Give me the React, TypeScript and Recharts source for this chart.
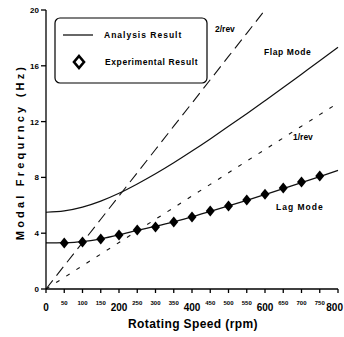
import { ComposedChart, Line, XAxis, YAxis } from "recharts";

const rpm = [0, 50, 100, 150, 200, 250, 300, 350, 400, 450, 500, 550, 600, 650, 700, 750, 800];
const flapAnalysis = [5.5, 5.6, 5.87, 6.3, 6.86, 7.53, 8.26, 9.05, 9.89, 10.76, 11.66, 12.57, 13.5, 14.44, 15.4, 16.36, 17.33];
const lagAnalysis = [3.3, 3.32, 3.4, 3.6, 3.88, 4.2, 4.5, 4.82, 5.17, 5.57, 5.95, 6.35, 6.77, 7.2, 7.62, 8.05, 8.5];
const lagExperiment = [null, 3.3, 3.37, 3.58, 3.87, 4.23, 4.44, 4.8, 5.16, 5.6, 5.95, 6.38, 6.8, 7.24, 7.67, 8.1, null];
const oneRev = [0, 0.83, 1.67, 2.5, 3.33, 4.17, 5, 5.83, 6.67, 7.5, 8.33, 9.17, 10, 10.83, 11.67, 12.5, 13.33];
const twoRev = [0, 1.67, 3.33, 5, 6.67, 8.33, 10, 11.67, 13.33, 15, 16.67, 18.33, 20, null, null, null, null];

const rpmTicks = [0, 50, 100, 150, 200, 250, 300, 350, 400, 450, 500, 550, 600, 650, 700, 750, 800];
const hzTicks = [0, 4, 8, 12, 16, 20];

const rows = rpm.map((r, i) => ({
  rpm: r,
  flap: flapAnalysis[i],
  lag: lagAnalysis[i],
  exp: lagExperiment[i],
  one: oneRev[i],
  two: twoRev[i],
}));

const FONT = "'Liberation Sans', Arial, sans-serif";

function RpmTick(props: any) {
  const { x, y, payload } = props;
  const v = payload.value as number;
  const big = v % 200 === 0;
  const last = v === 800;
  return (
    <text
      x={last ? x + 5 : x}
      y={big ? y + 16 : y + 10}
      textAnchor={last ? "end" : "middle"}
      fontFamily={FONT}
      fontWeight="bold"
      fontSize={big ? 10 : 6}
      fill="#000"
    >
      {v}
    </text>
  );
}

function HzTick(props: any) {
  const { x, y, payload } = props;
  return (
    <text x={x} y={y + 3} textAnchor="end" fontFamily={FONT} fontWeight="bold" fontSize={8} fill="#000">
      {payload.value}
    </text>
  );
}

function Diamond(props: any) {
  const { cx, cy, key } = props;
  if (cx == null || cy == null) return <g key={key} />;
  return (
    <polygon
      key={key}
      points={`${cx},${cy - 5.5} ${cx + 4.5},${cy} ${cx},${cy + 5.5} ${cx - 4.5},${cy}`}
      fill="#000"
    />
  );
}

const label = { fontFamily: FONT, fontWeight: "bold" as const, fill: "#000" };

export default function App() {
  return (
    <div style={{ position: "absolute", left: 0, top: 0, width: 344, height: 337, background: "#fff" }}>
      <ComposedChart width={344} height={337} data={rows} margin={{ top: 10, right: 6, bottom: 0, left: 0 }}>
        <XAxis
          xAxisId="bottom"
          dataKey="rpm"
          type="number"
          domain={[0, 800]}
          ticks={rpmTicks}
          interval={0}
          height={48}
          tickSize={4}
          stroke="#000"
          strokeWidth={1.3}
          tick={<RpmTick />}
        />
        <XAxis
          xAxisId="top"
          dataKey="rpm"
          type="number"
          orientation="top"
          domain={[0, 800]}
          ticks={rpmTicks}
          interval={0}
          height={0}
          mirror
          tickSize={4}
          stroke="#000"
          strokeWidth={1.3}
          tick={false}
        />
        <YAxis
          yAxisId="left"
          type="number"
          domain={[0, 20]}
          ticks={hzTicks}
          interval={0}
          width={46}
          tickSize={5}
          stroke="#000"
          strokeWidth={1.3}
          tick={<HzTick />}
        />
        <YAxis
          yAxisId="right"
          orientation="right"
          type="number"
          domain={[0, 20]}
          ticks={hzTicks}
          interval={0}
          width={0}
          mirror
          tickSize={5}
          stroke="#000"
          strokeWidth={1.3}
          tick={false}
        />
        <Line xAxisId="bottom" yAxisId="left" dataKey="two" type="linear" stroke="#111" strokeWidth={1.1}
          strokeDasharray="11 6" dot={false} connectNulls={false} isAnimationActive={false} />
        <Line xAxisId="bottom" yAxisId="left" dataKey="one" type="linear" stroke="#111" strokeWidth={1.1}
          strokeDasharray="4 8" dot={false} isAnimationActive={false} />
        <Line xAxisId="bottom" yAxisId="left" dataKey="flap" type="monotone" stroke="#111" strokeWidth={1.2}
          dot={false} isAnimationActive={false} />
        <Line xAxisId="bottom" yAxisId="left" dataKey="lag" type="monotone" stroke="#111" strokeWidth={1.3}
          dot={false} isAnimationActive={false} />
        <Line xAxisId="bottom" yAxisId="left" dataKey="exp" stroke="none" dot={<Diamond />}
          activeDot={false} isAnimationActive={false} />

        {/* legend box */}
        <rect x={55} y={18} width={152} height={65} rx={5} fill="#fff" stroke="#000" strokeWidth={1.2} />
        <line x1={63} x2={93} y1={35} y2={35} stroke="#000" strokeWidth={1.2} />
        <text x={104} y={38} fontSize={8.5} letterSpacing={1} {...label}>Analysis Result</text>
        <polygon points="79,56 84,62 79,68 74,62" fill="#fff" stroke="#000" strokeWidth={2.6} />
        <text x={105} y={65} fontSize={8.5} letterSpacing={0.6} {...label}>Experimental Result</text>

        {/* curve annotations */}
        <text x={215} y={32} fontSize={8.5} {...label}>2/rev</text>
        <text x={264} y={55} fontSize={8.5} letterSpacing={0.6} {...label}>Flap Mode</text>
        <text x={293} y={140} fontSize={8.5} {...label}>1/rev</text>
        <text x={276} y={210} fontSize={8.5} letterSpacing={1} {...label}>Lag Mode</text>

        {/* axis titles */}
        <text x={193} y={328} textAnchor="middle" fontSize={12} letterSpacing={0.4} {...label}>
          Rotating Speed (rpm)
        </text>
        <text x={20} y={152} textAnchor="middle" fontSize={11} letterSpacing={3.2}
          transform="rotate(-90 20 152)" dominantBaseline="central" {...label}>
          Modal Frequrncy (Hz)
        </text>
      </ComposedChart>
    </div>
  );
}
